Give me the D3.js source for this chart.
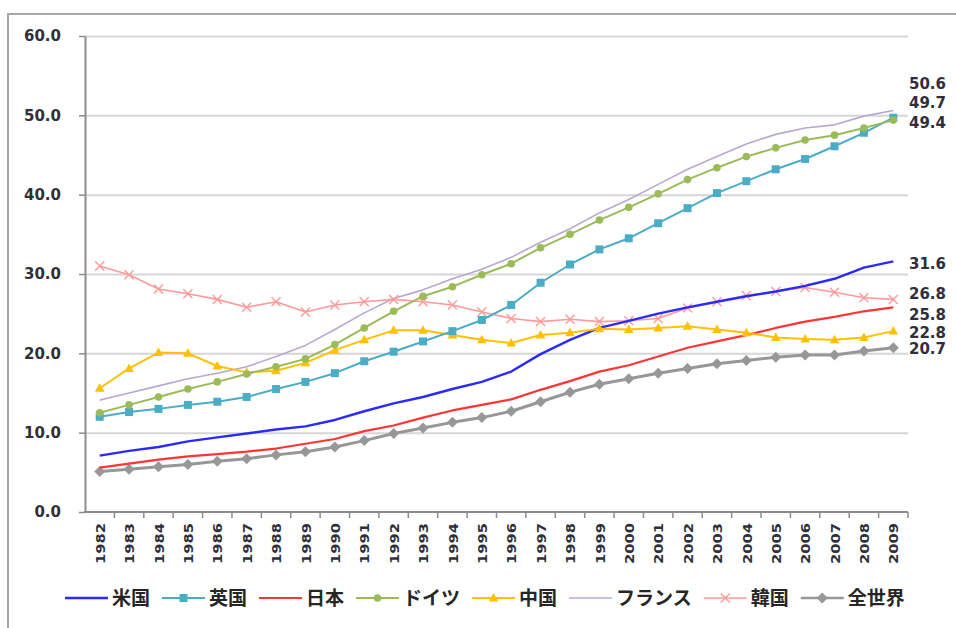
<!DOCTYPE html>
<html>
<head>
<meta charset="utf-8">
<script src="https://cdn.jsdelivr.net/npm/d3@7"></script>
<style>
  html, body { margin: 0; padding: 0; background: #fff; }
  svg { display: block; }
</style>
</head>
<body>
<svg id="chart" width="956" height="628"></svg>
<script>
// Years on the category axis
const years = ["1982","1983","1984","1985","1986","1987","1988","1989","1990","1991",
  "1992","1993","1994","1995","1996","1997","1998","1999","2000","2001",
  "2002","2003","2004","2005","2006","2007","2008","2009"];

// One array per country / aggregate
const usa     = [7.1,7.7,8.2,8.9,9.4,9.9,10.4,10.8,11.6,12.7,13.7,14.5,15.5,16.4,17.7,19.9,21.7,23.2,24.1,25.0,25.8,26.5,27.2,27.8,28.5,29.4,30.8,31.6];
const uk      = [12.0,12.6,13.0,13.5,13.9,14.5,15.5,16.4,17.5,19.0,20.2,21.5,22.8,24.2,26.1,28.9,31.2,33.1,34.5,36.4,38.3,40.2,41.7,43.2,44.5,46.1,47.8,49.7];
const japan   = [5.6,6.1,6.6,7.0,7.3,7.6,8.0,8.6,9.2,10.2,10.9,11.9,12.8,13.5,14.2,15.4,16.5,17.7,18.5,19.6,20.7,21.5,22.3,23.2,24.0,24.6,25.3,25.8];
const germany = [12.5,13.5,14.5,15.5,16.4,17.4,18.3,19.3,21.1,23.2,25.3,27.2,28.4,29.9,31.3,33.3,35.0,36.8,38.4,40.1,41.9,43.4,44.8,45.9,46.9,47.5,48.4,49.4];
const china   = [15.6,18.1,20.1,20.0,18.4,17.6,17.8,18.8,20.4,21.7,22.9,22.9,22.3,21.7,21.3,22.3,22.6,23.1,23.0,23.2,23.4,23.0,22.6,22.0,21.8,21.7,22.0,22.8];
const france  = [14.1,15.0,15.9,16.8,17.5,18.3,19.6,21.0,23.0,25.1,26.9,28.0,29.4,30.6,32.1,34.0,35.7,37.7,39.4,41.3,43.2,44.8,46.4,47.6,48.4,48.8,49.9,50.6];
const korea   = [31.0,29.9,28.1,27.5,26.8,25.8,26.5,25.2,26.1,26.5,26.8,26.5,26.1,25.2,24.4,24.0,24.3,24.0,24.1,24.4,25.7,26.5,27.3,27.8,28.3,27.7,27.0,26.8];
const world   = [5.1,5.4,5.7,6.0,6.4,6.7,7.2,7.6,8.2,9.0,9.9,10.6,11.3,11.9,12.7,13.9,15.1,16.1,16.8,17.5,18.1,18.7,19.1,19.5,19.8,19.8,20.3,20.7];

const seriesNames = ["米国","英国","日本","ドイツ","中国","フランス","韓国","全世界"];
const seriesValues = [usa, uk, japan, germany, china, france, korea, world];

// Value axis ticks
const yTicks = [0, 10, 20, 30, 40, 50, 60];

// Drawing styles per series
const styles = {
  "米国":   { color: "#2a2aff", width: 2.4, marker: null },
  "英国":   { color: "#4bacc6", width: 2,   marker: "square" },
  "日本":   { color: "#ff3434", width: 2.2, marker: null },
  "ドイツ": { color: "#9bbb59", width: 2,   marker: "circle" },
  "中国":   { color: "#ffc000", width: 2,   marker: "triangle" },
  "フランス": { color: "#b8a8d0", width: 1.6, marker: null },
  "韓国":   { color: "#ff9a9a", width: 1.6, marker: "cross" },
  "全世界": { color: "#979797", width: 3,   marker: "diamond" }
};
// Vertical nudges for the end-of-line value labels so they don't collide
const labelNudge = { "フランス": -27, "英国": -15, "ドイツ": 3, "米国": 2, "韓国": -6, "日本": 7, "中国": 1, "全世界": 1 };

const series = seriesNames.map((name, i) => ({
  name,
  values: years.map((yr, j) => ({ year: yr, value: seriesValues[i][j] }))
}));

const svg = d3.select("#chart");
const plotLeft = 85, plotRight = 908, plotTop = 36, plotBottom = 512;

const x = d3.scalePoint().domain(years).range([plotLeft, plotRight]).padding(0.5);
const xBand = d3.scaleBand().domain(years).range([plotLeft, plotRight]);
const y = d3.scaleLinear().domain([0, 60]).range([plotBottom, plotTop]);

const numFont = "'DejaVu Sans', Verdana, sans-serif";
const jpFont = "'Noto Sans CJK JP', 'Noto Sans', sans-serif";

// Outer frame
svg.append("rect")
  .attr("x", 8).attr("y", 14).attr("width", 1000).attr("height", 700)
  .attr("fill", "none").attr("stroke", "#a6a6a6").attr("stroke-width", 2);

// Horizontal gridlines
svg.append("g")
  .attr("transform", `translate(${plotLeft},0)`)
  .call(d3.axisLeft(y).tickValues(yTicks.filter(t => t > 0)).tickSize(-(plotRight - plotLeft)).tickFormat(""))
  .call(g => g.select(".domain").remove())
  .call(g => g.selectAll("line").attr("stroke", "#d6d6d6").attr("stroke-width", 2));

// Y axis
svg.append("g")
  .attr("transform", `translate(${plotLeft},0)`)
  .call(d3.axisLeft(y).tickValues(yTicks).tickFormat(d3.format(".1f")).tickSize(6).tickSizeOuter(0).tickPadding(18))
  .call(g => g.select(".domain").attr("stroke", "#8c8c8c").attr("stroke-width", 2))
  .call(g => g.selectAll(".tick line").attr("stroke", "#8c8c8c").attr("stroke-width", 1.5))
  .call(g => g.selectAll("text")
    .attr("font-family", numFont).attr("font-size", 15).attr("font-weight", "bold")
    .attr("fill", "#2f2f3a"));

// X axis: labels at category centres, ticks on category boundaries
const xAxis = svg.append("g")
  .attr("transform", `translate(0,${plotBottom})`)
  .call(d3.axisBottom(x).tickSize(0).tickSizeOuter(0))
  .call(g => g.select(".domain").attr("stroke", "#8c8c8c").attr("stroke-width", 2)
    .attr("d", `M${plotLeft - 1},0H${plotRight}`))
  .call(g => g.selectAll("text")
    .attr("transform", "rotate(-90)")
    .attr("text-anchor", "end")
    .attr("x", -11).attr("y", 0).attr("dy", "0.36em")
    .attr("font-family", numFont).attr("font-size", 13).attr("font-weight", "bold")
    .attr("textLength", 41).attr("lengthAdjust", "spacingAndGlyphs")
    .attr("fill", "#2f2f3a"));

xAxis.selectAll("line.bound")
  .data(years.slice(1).map(d => xBand(d)).concat([plotRight]))
  .join("line")
  .attr("class", "bound")
  .attr("x1", d => d).attr("x2", d => d)
  .attr("y1", 0).attr("y2", 6)
  .attr("stroke", "#8c8c8c").attr("stroke-width", 1.5);

// Marker shapes
function drawMarker(sel, kind, color) {
  if (kind === "square") {
    sel.append("rect").attr("x", -4).attr("y", -4).attr("width", 8).attr("height", 8)
      .attr("fill", color);
  } else if (kind === "circle") {
    sel.append("circle").attr("r", 3.8).attr("fill", color);
  } else if (kind === "triangle") {
    sel.append("path").attr("d", "M0,-5L4.8,3.5L-4.8,3.5Z").attr("fill", color);
  } else if (kind === "diamond") {
    sel.append("path").attr("d", "M0,-5.5L5.5,0L0,5.5L-5.5,0Z").attr("fill", color);
  } else if (kind === "cross") {
    sel.append("path").attr("d", "M-4.5,-4.5L4.5,4.5M-4.5,4.5L4.5,-4.5")
      .attr("stroke", color).attr("stroke-width", 1.4).attr("fill", "none");
  }
}

const line = d3.line().x(d => x(d.year)).y(d => y(d.value));

// Draw order: France first so the markers of others sit on top
const drawOrder = ["フランス","韓国","全世界","日本","米国","中国","英国","ドイツ"];
drawOrder.forEach(name => {
  const s = series.find(d => d.name === name);
  const st = styles[name];
  const g = svg.append("g");
  g.append("path").datum(s.values)
    .attr("d", line).attr("fill", "none")
    .attr("stroke", st.color).attr("stroke-width", st.width)
    .attr("stroke-linejoin", "round");
  if (st.marker) {
    g.selectAll("g.m").data(s.values).join("g")
      .attr("class", "m")
      .attr("transform", d => `translate(${x(d.year)},${y(d.value)})`)
      .each(function () { drawMarker(d3.select(this), st.marker, st.color); });
  }
});

// Values at the end of each line
svg.append("g").selectAll("text")
  .data(series)
  .join("text")
  .attr("x", plotRight + 1)
  .attr("y", d => y(d.values[d.values.length - 1].value) + labelNudge[d.name])
  .attr("dy", "0.36em")
  .attr("font-family", numFont).attr("font-size", 15).attr("font-weight", "bold")
  .attr("fill", "#2f2f3a")
  .text(d => d3.format(".1f")(d.values[d.values.length - 1].value));

// Legend
const legend = svg.append("g").attr("transform", "translate(65,598)");
let cx = 0;
series.forEach(s => {
  const st = styles[s.name];
  const item = legend.append("g").attr("transform", `translate(${cx},0)`);
  item.append("line").attr("x1", 0).attr("x2", 43).attr("y1", 0).attr("y2", 0)
    .attr("stroke", st.color).attr("stroke-width", Math.min(st.width, 2.4));
  if (st.marker) {
    const m = item.append("g").attr("transform", "translate(21.5,0)");
    drawMarker(m, st.marker, st.color);
  }
  const t = item.append("text").attr("x", 47).attr("y", 0).attr("dy", "0.36em")
    .attr("font-family", jpFont).attr("font-size", 19).attr("font-weight", "bold")
    .attr("fill", "#262626").text(s.name);
  cx += 47 + t.node().getComputedTextLength() + 12;
});
</script>
</body>
</html>
